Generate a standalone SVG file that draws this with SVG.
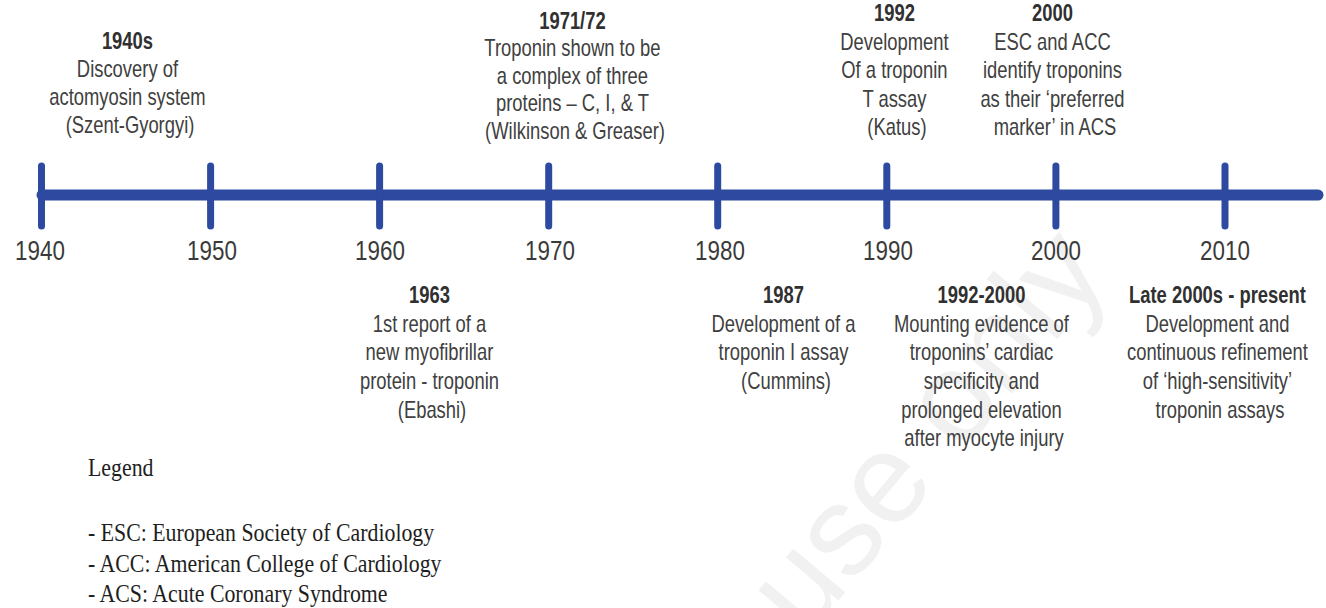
<svg xmlns="http://www.w3.org/2000/svg" width="1326" height="608" viewBox="0 0 1326 608">
  <style>
    .ev { font-family: "Liberation Sans", Arial, sans-serif; font-size: 23px; fill: #404040; text-anchor: middle; }
    .ev .hd { font-weight: bold; fill: #303030; }
    .yr { font-family: "Liberation Sans", Arial, sans-serif; font-size: 28px; fill: #3a3a3a; text-anchor: middle; }
    .lg { font-family: "Liberation Serif", "Times New Roman", serif; font-size: 26px; fill: #1e1e1e; }
    .axis { stroke: #2d4aa0; stroke-linecap: round; fill: none; }
    .wm { font-family: "Liberation Sans", Arial, sans-serif; font-size: 128px; fill: #f1f1f1; }
  </style>
  <rect width="1326" height="608" fill="#ffffff"/>
  <text class="wm" transform="translate(805,640) rotate(-50)">use only</text>

  <g id="connectors">
    <line class="axis" x1="42" y1="195" x2="1318" y2="195" stroke-width="11"/>
    <g stroke-width="7" class="axis">
      <line class="axis" x1="41.5" y1="166" x2="41.5" y2="226"/>
      <line class="axis" x1="210.6" y1="166" x2="210.6" y2="226"/>
      <line class="axis" x1="379.6" y1="166" x2="379.6" y2="226"/>
      <line class="axis" x1="548.7" y1="166" x2="548.7" y2="226"/>
      <line class="axis" x1="717.7" y1="166" x2="717.7" y2="226"/>
      <line class="axis" x1="886.8" y1="166" x2="886.8" y2="226"/>
      <line class="axis" x1="1055.9" y1="166" x2="1055.9" y2="226"/>
      <line class="axis" x1="1225" y1="166" x2="1225" y2="226"/>
    </g>
  </g>

  <g id="years">
    <text class="yr" transform="translate(40,260) scale(0.8,1)">1940</text>
    <text class="yr" transform="translate(212,260) scale(0.8,1)">1950</text>
    <text class="yr" transform="translate(380,260) scale(0.8,1)">1960</text>
    <text class="yr" transform="translate(550,260) scale(0.8,1)">1970</text>
    <text class="yr" transform="translate(720,260) scale(0.8,1)">1980</text>
    <text class="yr" transform="translate(888,260) scale(0.8,1)">1990</text>
    <text class="yr" transform="translate(1056,260) scale(0.8,1)">2000</text>
    <text class="yr" transform="translate(1225,260) scale(0.8,1)">2010</text>
  </g>

  <g id="e1940s">
    <text class="ev" transform="translate(130,49) scale(0.8,1)">
      <tspan class="hd" x="0" y="0">1940s</tspan>
      <tspan x="0" dy="28">Discovery of</tspan>
      <tspan x="0" dy="28">actomyosin system</tspan>
      <tspan x="0" dy="28">(Szent-Gyorgyi)</tspan>
    </text>
  </g>

  <g id="e1963">
    <text class="ev" transform="translate(432,303) scale(0.8,1)">
      <tspan class="hd" x="0" y="0">1963</tspan>
      <tspan x="0" dy="28.7">1st report of a</tspan>
      <tspan x="0" dy="28.7">new myofibrillar</tspan>
      <tspan x="0" dy="28.7">protein - troponin</tspan>
      <tspan x="0" dy="28.7">(Ebashi)</tspan>
    </text>
  </g>

  <g id="e1971">
    <text class="ev" transform="translate(575,29) scale(0.8,1)">
      <tspan class="hd" x="0" y="0">1971/72</tspan>
      <tspan x="0" dy="27.5">Troponin shown to be</tspan>
      <tspan x="0" dy="27.5">a complex of three</tspan>
      <tspan x="0" dy="27.5">proteins – C, I, &amp; T</tspan>
      <tspan x="0" dy="27.5">(Wilkinson &amp; Greaser)</tspan>
    </text>
  </g>

  <g id="e1987">
    <text class="ev" transform="translate(786,303) scale(0.8,1)">
      <tspan class="hd" x="0" y="0">1987</tspan>
      <tspan x="0" dy="28.7">Development of a</tspan>
      <tspan x="0" dy="28.7">troponin I assay</tspan>
      <tspan x="0" dy="28.7">(Cummins)</tspan>
    </text>
  </g>

  <g id="e1992">
    <text class="ev" transform="translate(897,21) scale(0.8,1)">
      <tspan class="hd" x="0" y="0">1992</tspan>
      <tspan x="0" dy="29">Development</tspan>
      <tspan x="0" dy="28.5">Of a troponin</tspan>
      <tspan x="0" dy="28.5">T assay</tspan>
      <tspan x="0" dy="28.5">(Katus)</tspan>
    </text>
  </g>

  <g id="e1992-2000">
    <text class="ev" transform="translate(984,303) scale(0.8,1)">
      <tspan class="hd" x="0" y="0">1992-2000</tspan>
      <tspan x="0" dy="28.7">Mounting evidence of</tspan>
      <tspan x="0" dy="28.7">troponins’ cardiac</tspan>
      <tspan x="0" dy="28.7">specificity and</tspan>
      <tspan x="0" dy="28.7">prolonged elevation</tspan>
      <tspan x="0" dy="28.7">after myocyte injury</tspan>
    </text>
  </g>

  <g id="e2000">
    <text class="ev" transform="translate(1055,21) scale(0.8,1)">
      <tspan class="hd" x="0" y="0">2000</tspan>
      <tspan x="0" dy="29">ESC and ACC</tspan>
      <tspan x="0" dy="28.5">identify troponins</tspan>
      <tspan x="0" dy="28.5">as their ‘preferred</tspan>
      <tspan x="0" dy="28.5">marker’ in ACS</tspan>
    </text>
  </g>

  <g id="eLate2000s">
    <text class="ev" transform="translate(1220,303) scale(0.8,1)">
      <tspan class="hd" x="0" y="0">Late 2000s - present</tspan>
      <tspan x="0" dy="28.7">Development and</tspan>
      <tspan x="0" dy="28.7">continuous refinement</tspan>
      <tspan x="0" dy="28.7">of ‘high-sensitivity’</tspan>
      <tspan x="0" dy="28.7">troponin assays</tspan>
    </text>
  </g>

  <g id="legend">
    <text class="lg" transform="translate(88,476) scale(0.84,1)">Legend</text>
    <text class="lg" transform="translate(88,541) scale(0.84,1)">- ESC: European Society of Cardiology</text>
    <text class="lg" transform="translate(88,572) scale(0.84,1)">- ACC: American College of Cardiology</text>
    <text class="lg" transform="translate(88,602) scale(0.84,1)">- ACS: Acute Coronary Syndrome</text>
  </g>
</svg>
